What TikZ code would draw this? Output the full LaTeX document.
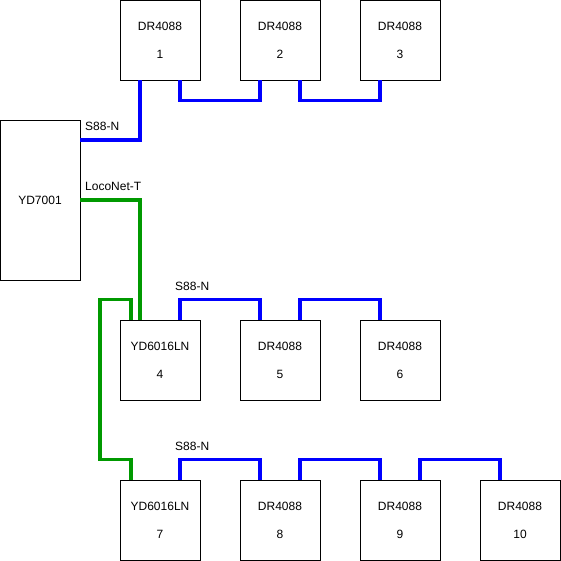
\documentclass[tikz,border=0pt]{standalone}
\usepackage{fontspec}
\setmainfont{Liberation Sans}
\usetikzlibrary{positioning}
\definecolor{sblue}{HTML}{0000FF}
\definecolor{lgreen}{HTML}{009900}
\tikzset{
  every picture/.style={font=\fontsize{12}{28}\selectfont},
  module/.style={draw=black, line width=0.9pt, fill=white, align=center, inner sep=0pt, minimum width=80pt, minimum height=80pt},
  s88/.style={draw=sblue, line width=3.6pt},
  loconet/.style={draw=lgreen, line width=3.6pt},
  lbl/.style={anchor=west, inner sep=1pt, font=\fontsize{12}{14}\selectfont},
}

\begin{document}
\begin{tikzpicture}[x=1pt, y=-1pt]
  \useasboundingbox (0,0) rectangle (561,561);
  % command station
  \node[module, minimum height=160pt] (cs) at (40,200) {YD7001};
  % feedback modules
  \foreach \i/\x in {1/160,2/280,3/400}
    \node[module] (m\i) at (\x,40) {DR4088\\\i};
  \node[module] (m4) at (160,360) {YD6016LN\\4};
  \foreach \i/\x in {5/280,6/400}
    \node[module] (m\i) at (\x,360) {DR4088\\\i};
  \node[module] (m7) at (160,520) {YD6016LN\\7};
  \foreach \i/\x in {8/280,9/400,10/520}
    \node[module] (m\i) at (\x,520) {DR4088\\\i};
  % S88-N bus
  \draw[s88] ([yshift=60pt]cs.east) -| ([xshift=-20pt]m1.south);
  \foreach \p/\q in {1/2,2/3}
    \draw[s88] ([xshift=20pt]m\p.south) -- ++(0,20) -| ([xshift=-20pt]m\q.south);
  \foreach \p/\q in {4/5,5/6,7/8,8/9,9/10}
    \draw[s88] ([xshift=20pt]m\p.north) -- ++(0,-20) -| ([xshift=-20pt]m\q.north);
  % LocoNet-T
  \draw[loconet] (cs.east) -| ([xshift=-20pt]m4.north);
  \draw[loconet] ([xshift=-29pt]m4.north) -- ++(0,-20) -- ++(-31,0)
    |- ([xshift=-29pt,yshift=20pt]m7.north) -- ([xshift=-29pt]m7.north);
  % labels
  \node[lbl] (l1) at (84,126) {S88-N};
  \node[lbl] (l2) at (84,186) {LocoNet-T};
  \node[lbl] (l3) at (174,286) {S88-N};
  \node[lbl] (l4) at (174,446) {S88-N};
\end{tikzpicture}
\end{document}
